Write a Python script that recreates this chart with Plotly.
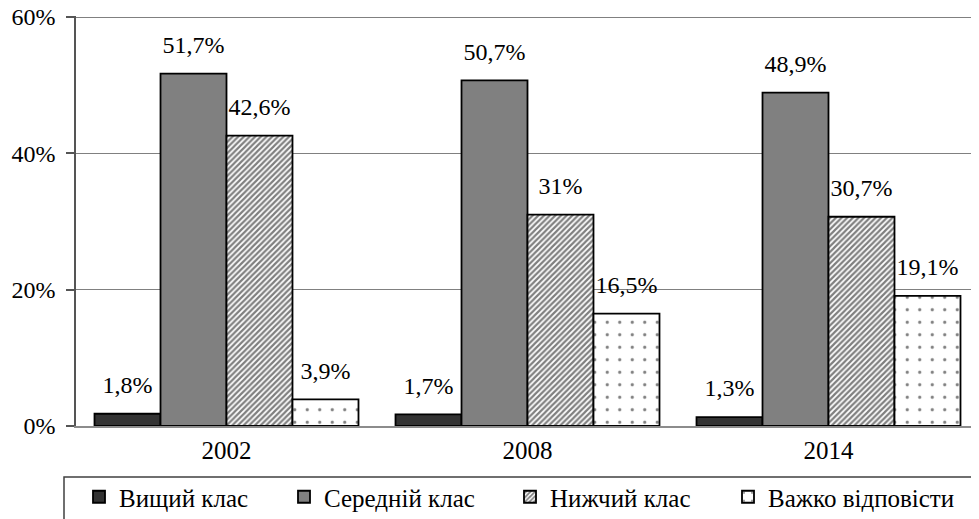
import plotly.graph_objects as go

years = ["2002", "2008", "2014"]
series_names = ["Вищий клас", "Середній клас", "Нижчий клас", "Важко відповісти"]
vyshchyi = [1.8, 1.7, 1.3]
serednii = [51.7, 50.7, 48.9]
nyzhchyi = [42.6, 31.0, 30.7]
vazhko = [3.9, 16.5, 19.1]
y_ticks = [0, 20, 40, 60]
y_tick_labels = ["0%", "20%", "40%", "60%"]

values = [vyshchyi, serednii, nyzhchyi, vazhko]

def fmt(v):
    s = ("%.1f" % v).rstrip("0").rstrip(".")
    return s.replace(".", ",") + "%"

FONT = "Liberation Serif, Times New Roman, serif"
styles = [
    dict(color="#333333", pattern=None),
    dict(color="#808080", pattern=None),
    dict(color="white", pattern=dict(shape="/", fgcolor="black", bgcolor="white", size=4, solidity=0.55, fillmode="overlay")),
    dict(color="white", pattern=dict(shape=".", fgcolor="black", bgcolor="white", size=12.5, solidity=0.05, fillmode="overlay")),
]
legend_ids = ["legend", "legend2", "legend3", "legend4"]
legend_left_px = [3, 208, 434, 652]  # offset of each legend entry from the plot's left edge

fig = go.Figure()
for name, vals, st, lg in zip(series_names, values, styles, legend_ids):
    marker = dict(color=st["color"], line=dict(color="black", width=1.8))
    if st["pattern"] is not None:
        marker["pattern"] = st["pattern"]
    fig.add_trace(go.Bar(
        x=years, y=vals, name=name, marker=marker,
        offsetgroup=name, hoverinfo="skip", legend=lg,
    ))

for name, vals in zip(series_names, values):
    fig.add_trace(go.Scatter(
        x=years, y=vals, mode="markers+text",
        text=[fmt(v) for v in vals], textposition="top center",
        textfont=dict(family=FONT, size=24, color="black"),
        marker=dict(size=22, color="rgba(0,0,0,0)"),
        offsetgroup=name, showlegend=False, hoverinfo="skip", cliponaxis=False,
    ))

legend_common = dict(
    orientation="h", xanchor="left", y=-48 / 410, yanchor="top",
    font=dict(family=FONT, size=25, color="black"),
    bgcolor="rgba(0,0,0,0)", borderwidth=0,
)

fig.update_layout(
    width=971, height=511,
    margin=dict(l=68, r=0, t=8, b=93, autoexpand=False),
    paper_bgcolor="white", plot_bgcolor="white",
    barmode="group", bargap=0.123, bargroupgap=0,
    scattermode="group", scattergap=0.123,
    font=dict(family=FONT, size=25, color="black"),
    showlegend=True,
    shapes=[dict(
        type="rect", xref="paper", yref="paper",
        x0=-12 / 903, x1=(978 - 76) / 903,
        y0=-51 / 410, y1=-0.4,
        line=dict(color="#404040", width=1.5), fillcolor="rgba(0,0,0,0)", layer="below",
    )],
)
for lg, px in zip(legend_ids, legend_left_px):
    fig.update_layout({lg: dict(legend_common, x=px / 903)})

fig.update_xaxes(
    type="category", showgrid=False, showline=True, linecolor="#8c8c8c", linewidth=2,
    ticks="", tickfont=dict(family=FONT, size=25, color="black"),
    ticklabelstandoff=1, zeroline=False,
)
fig.update_yaxes(
    range=[0, 60.15], tickvals=y_ticks, ticktext=y_tick_labels,
    showgrid=True, gridcolor="#808080", gridwidth=1,
    showline=True, linecolor="#555555", linewidth=1.5,
    ticks="outside", ticklen=8, tickcolor="#555555", tickwidth=1.5,
    tickfont=dict(family=FONT, size=24, color="black"),
    ticklabelstandoff=6, zeroline=False, ticklabeloverflow="allow",
)

fig.write_html("out.html")
